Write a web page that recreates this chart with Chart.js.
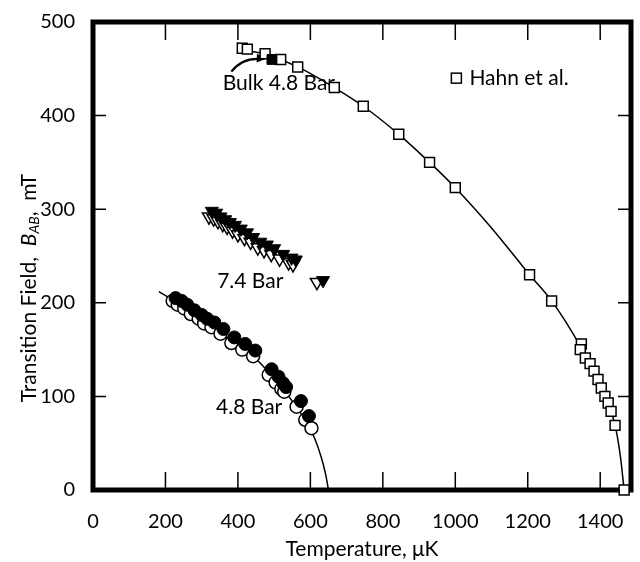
<!DOCTYPE html>
<html>
<head>
<meta charset="utf-8">
<script src="https://cdn.jsdelivr.net/npm/chart.js@4.4.0/dist/chart.umd.min.js"></script>
<style>
html, body { margin: 0; padding: 0; background: #fff; }
</style>
</head>
<body>
<canvas id="fieldChart" width="640" height="562"></canvas>
<script>
// tick values
const xTickValues = [0, 200, 400, 600, 800, 1000, 1200, 1400];
const yTickValues = [0, 100, 200, 300, 400, 500];

// Hahn et al. bulk data (open squares) and the line through them
const hahnT = [412, 426, 475, 518, 565, 666, 746, 844, 929, 1000, 1205, 1266, 1348, 1345, 1359, 1372, 1383, 1394, 1403, 1413, 1422, 1430, 1441, 1466];
const hahnB = [472, 471, 466, 460, 452, 430, 410, 380, 350, 323, 230, 202, 156, 150, 141, 135, 127, 118, 109, 100, 93, 84, 69, 0];
const hahnFitT = [398, 412, 475, 565, 666, 746, 844, 929, 1000, 1100, 1205, 1266, 1346, 1400, 1441, 1456, 1466];
const hahnFitB = [478, 472, 466, 452, 430, 410, 380, 350, 323, 280, 230, 202, 153, 112, 69, 35, 0];

// bulk 4.8 bar point (filled square)
const bulkT = [494];
const bulkB = [460];

// 4.8 bar: open and filled circles, plus the line
const open48T = [220, 234, 252, 270, 292, 307, 327, 352, 382, 412, 442, 485, 504, 520, 528, 562, 586, 603];
const open48B = [202, 198, 194, 188, 183, 178, 174, 167, 157, 150, 143, 123, 115, 108, 105, 89, 75, 66];
const filled48T = [228, 245, 260, 280, 300, 315, 335, 360, 390, 420, 448, 493, 512, 525, 533, 574, 596];
const filled48B = [205, 202, 198, 192, 187, 183, 179, 172, 163, 156, 149, 129, 121, 114, 110, 95, 79];
const fit48T = [182, 220, 260, 300, 350, 400, 450, 500, 550, 590, 612, 630, 642, 650];
const fit48B = [212, 203, 194, 184, 169, 154, 140, 119, 95, 72, 55, 35, 17, 0];

// 7.4 bar: open and filled down-triangles
const open74T = [320, 333, 345, 358, 370, 385, 400, 418, 435, 455, 472, 492, 515, 540, 552, 618];
const open74B = [292, 290, 287, 284, 281, 277, 273, 269, 265, 259, 256, 252, 247, 243, 241, 222];
const filled74T = [328, 340, 352, 365, 378, 392, 408, 425, 442, 462, 480, 500, 525, 548, 560, 635];
const filled74B = [298, 296, 292, 289, 286, 283, 279, 275, 270, 265, 262, 258, 252, 248, 246, 224];

const pts = (xs, ys) => xs.map((v, i) => ({ x: v, y: ys[i] }));
const FONT = 'Lato, "DejaVu Sans", sans-serif';

// frame, inward ticks, labels and arrow
const decor = {
    id: 'decor',
    beforeDatasetsDraw(chart) {
        const { ctx, chartArea: a, scales: { x, y } } = chart;
        ctx.save();
        ctx.strokeStyle = '#000';
        ctx.lineWidth = 1.5;
        ctx.beginPath();
        x.ticks.forEach(t => {
            const px = x.getPixelForValue(t.value);
            ctx.moveTo(px, a.bottom); ctx.lineTo(px, a.bottom - 18);
            ctx.moveTo(px, a.top); ctx.lineTo(px, a.top + 18);
        });
        y.ticks.forEach(t => {
            const py = y.getPixelForValue(t.value);
            ctx.moveTo(a.left, py); ctx.lineTo(a.left + 13, py);
            ctx.moveTo(a.right, py); ctx.lineTo(a.right - 13, py);
        });
        ctx.stroke();
        ctx.lineWidth = 5;
        ctx.strokeRect(a.left, a.top, a.right - a.left, a.bottom - a.top);

        // text labels inside the plot
        ctx.fillStyle = '#000';
        ctx.font = '21px ' + FONT;
        ctx.textAlign = 'center';
        ctx.textBaseline = 'middle';
        ctx.fillText('Bulk 4.8 Bar', x.getPixelForValue(513), y.getPixelForValue(435));
        ctx.fillText('7.4 Bar', x.getPixelForValue(434), y.getPixelForValue(223));
        ctx.fillText('4.8 Bar', x.getPixelForValue(431), y.getPixelForValue(88));

        // legend
        const lx = x.getPixelForValue(1003), ly = y.getPixelForValue(440);
        ctx.lineWidth = 1.5;
        ctx.fillStyle = '#fff';
        ctx.fillRect(lx - 5, ly - 5, 10, 10);
        ctx.strokeRect(lx - 5, ly - 5, 10, 10);
        ctx.fillStyle = '#000';
        ctx.textAlign = 'left';
        ctx.fillText('Hahn et al.', lx + 13, ly);

        // arrow to the bulk point
        const t0 = [x.getPixelForValue(382), y.getPixelForValue(447)];
        const c0 = [x.getPixelForValue(412), y.getPixelForValue(462)];
        const h0 = [x.getPixelForValue(480), y.getPixelForValue(461)];
        ctx.lineWidth = 2.2;
        ctx.beginPath();
        ctx.moveTo(t0[0], t0[1]);
        ctx.quadraticCurveTo(c0[0], c0[1], h0[0] - 6, h0[1] + 0.5);
        ctx.stroke();
        const ang = Math.atan2(h0[1] - c0[1], h0[0] - c0[0]);
        ctx.beginPath();
        ctx.moveTo(h0[0], h0[1]);
        ctx.lineTo(h0[0] - 11 * Math.cos(ang - 0.4), h0[1] - 11 * Math.sin(ang - 0.4));
        ctx.lineTo(h0[0] - 11 * Math.cos(ang + 0.4), h0[1] - 11 * Math.sin(ang + 0.4));
        ctx.closePath();
        ctx.fill();

        // axis titles
        ctx.font = '21px ' + FONT;
        ctx.textAlign = 'center';
        ctx.fillText('Temperature, \u03bcK', (a.left + a.right) / 2, 549);

        ctx.translate(29, 288);
        ctx.rotate(-Math.PI / 2);
        const parts = [
            ['Transition Field,  ', '21px ' + FONT, 0],
            ['B', 'italic 21px ' + FONT, 0],
            ['AB', 'italic 14px ' + FONT, 5],
            [',  mT', '21px ' + FONT, 0]
        ];
        let total = 0;
        parts.forEach(p => { ctx.font = p[1]; total += ctx.measureText(p[0]).width; });
        let cx = -total / 2;
        ctx.textAlign = 'left';
        parts.forEach(p => {
            ctx.font = p[1];
            ctx.fillText(p[0], cx, p[2]);
            cx += ctx.measureText(p[0]).width;
        });
        ctx.restore();
    }
};

const canvas = document.getElementById('fieldChart');

new Chart(canvas, {
    type: 'scatter',
    data: {
        datasets: [
            {
                label: 'Hahn fit',
                data: pts(hahnFitT, hahnFitB),
                showLine: true,
                borderColor: '#000',
                borderWidth: 1.5,
                pointRadius: 0,
                cubicInterpolationMode: 'monotone',
                order: 9
            },
            {
                label: '4.8 Bar fit',
                data: pts(fit48T, fit48B),
                showLine: true,
                borderColor: '#000',
                borderWidth: 1.5,
                pointRadius: 0,
                cubicInterpolationMode: 'monotone',
                order: 8
            },
            {
                label: 'Hahn et al.',
                data: pts(hahnT, hahnB),
                pointStyle: 'rect',
                pointRadius: 7,
                backgroundColor: '#fff',
                borderColor: '#000',
                borderWidth: 1.5,
                order: 6
            },
            {
                label: 'Bulk 4.8 Bar',
                data: pts(bulkT, bulkB),
                pointStyle: 'rect',
                pointRadius: 7,
                backgroundColor: '#000',
                borderColor: '#000',
                borderWidth: 1,
                order: 1
            },
            {
                label: '4.8 Bar open',
                data: pts(open48T, open48B),
                pointStyle: 'circle',
                pointRadius: 6.5,
                backgroundColor: '#fff',
                borderColor: '#000',
                borderWidth: 1.5,
                order: 5
            },
            {
                label: '4.8 Bar filled',
                data: pts(filled48T, filled48B),
                pointStyle: 'circle',
                pointRadius: 6.5,
                backgroundColor: '#000',
                borderColor: '#000',
                borderWidth: 1,
                order: 2
            },
            {
                label: '7.4 Bar open',
                data: pts(open74T, open74B),
                pointStyle: 'triangle',
                rotation: 180,
                pointRadius: 7.5,
                backgroundColor: '#fff',
                borderColor: '#000',
                borderWidth: 1.5,
                order: 4
            },
            {
                label: '7.4 Bar filled',
                data: pts(filled74T, filled74B),
                pointStyle: 'triangle',
                rotation: 180,
                pointRadius: 7.5,
                backgroundColor: '#000',
                borderColor: '#000',
                borderWidth: 1,
                order: 3
            }
        ]
    },
    options: {
        responsive: false,
        animation: false,
        clip: false,
        layout: { padding: { top: 20, right: 4, left: 0, bottom: 0 } },
        plugins: {
            legend: { display: false },
            tooltip: { enabled: false }
        },
        scales: {
            x: {
                type: 'linear',
                min: 0,
                max: 1485,
                grid: { display: false },
                border: { display: false },
                afterBuildTicks: s => { s.ticks = xTickValues.map(v => ({ value: v })); },
                afterFit: s => { s.height = 72; },
                ticks: {
                    color: '#000',
                    font: { family: FONT, size: 20 },
                    padding: 12,
                    maxRotation: 0,
                    autoSkip: false,
                    callback: v => String(v)
                }
            },
            y: {
                type: 'linear',
                min: 0,
                max: 500,
                grid: { display: false },
                border: { display: false },
                afterBuildTicks: s => { s.ticks = yTickValues.map(v => ({ value: v })); },
                afterFit: s => { s.width = 93; },
                ticks: {
                    color: '#000',
                    font: { family: FONT, size: 20 },
                    padding: 10,
                    callback: v => String(v)
                }
            }
        }
    },
    plugins: [decor]
});
</script>
</body>
</html>
